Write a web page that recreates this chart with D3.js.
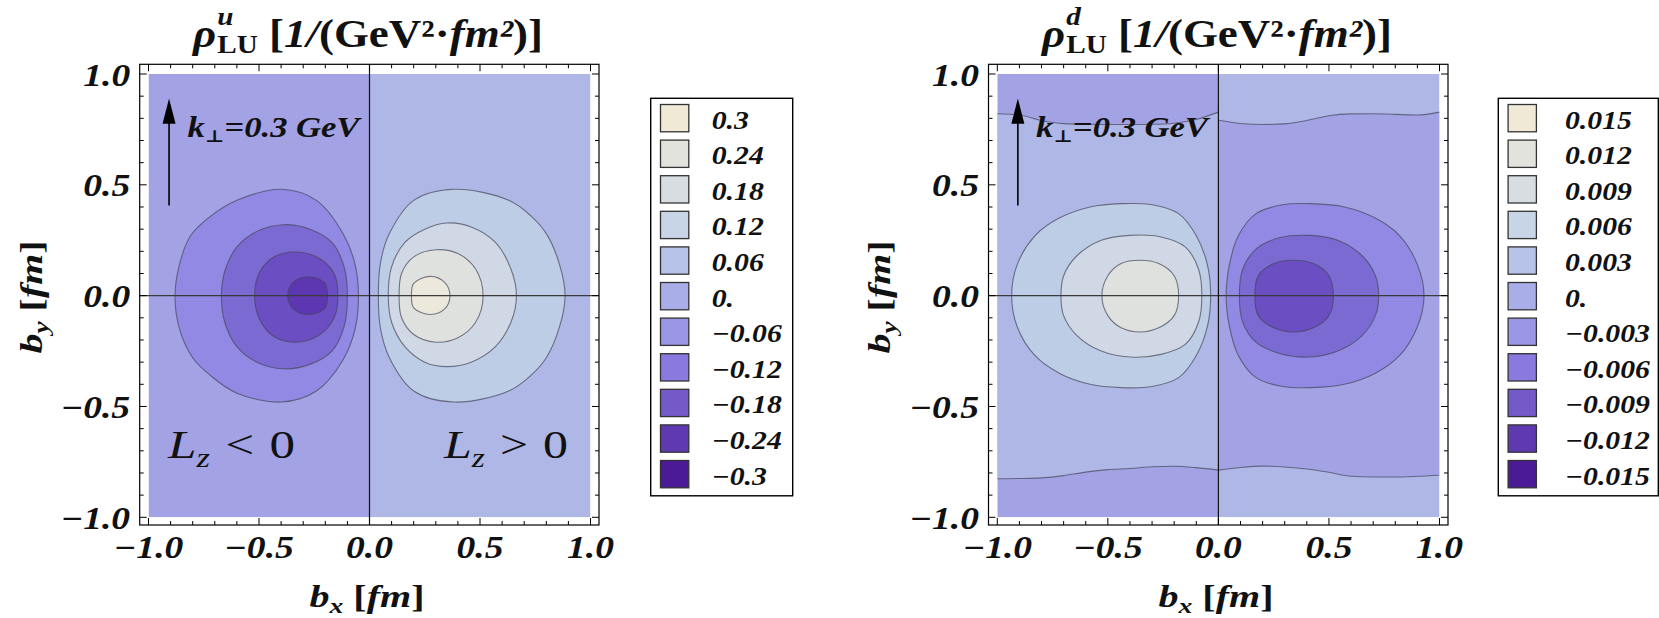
<!DOCTYPE html>
<html><head><meta charset="utf-8">
<script src="https://cdn.jsdelivr.net/npm/d3@7"></script>
<style>
body{margin:0;background:#fff}
svg{display:block}
text{font-family:"Liberation Serif","Times New Roman",serif;fill:#111}
</style></head>
<body><svg id="chart" width="1659" height="618"></svg>
<script>
// ================= DATA =================
const tickValues = [-1, -0.5, 0, 0.5, 1];
const tickLabels = ["−1.0", "−0.5", "0.0", "0.5", "1.0"];
const minorTickValues = [-0.9,-0.8,-0.7,-0.6,-0.4,-0.3,-0.2,-0.1,0.1,0.2,0.3,0.4,0.6,0.7,0.8,0.9];

const uLegendLabels = ["0.3","0.24","0.18","0.12","0.06","0.","−0.06","−0.12","−0.18","−0.24","−0.3"];
const dLegendLabels = ["0.015","0.012","0.009","0.006","0.003","0.","−0.003","−0.006","−0.009","−0.012","−0.015"];

// rho^u : negative lobe contours (levels -0.06, -0.12, -0.18, -0.24), [bx, by]
const uNeg006 = [[-0.05,0],[-0.065,0.14],[-0.12,0.28],[-0.24,0.43],[-0.40,0.48],[-0.60,0.43],[-0.73,0.35],[-0.81,0.27],[-0.86,0.14],[-0.88,0],[-0.86,-0.15],[-0.80,-0.28],[-0.72,-0.36],[-0.60,-0.44],[-0.40,-0.48],[-0.24,-0.43],[-0.12,-0.29],[-0.065,-0.15]];
const uNeg012 = [[-0.10,0],[-0.115,0.13],[-0.17,0.24],[-0.27,0.30],[-0.39,0.32],[-0.51,0.29],[-0.60,0.22],[-0.655,0.11],[-0.67,0],[-0.655,-0.12],[-0.60,-0.23],[-0.51,-0.30],[-0.39,-0.33],[-0.27,-0.31],[-0.17,-0.25],[-0.115,-0.14]];
const uNeg018 = [[-0.143,0],[-0.16,0.10],[-0.23,0.17],[-0.34,0.197],[-0.44,0.17],[-0.50,0.10],[-0.52,0],[-0.50,-0.10],[-0.44,-0.18],[-0.34,-0.21],[-0.23,-0.18],[-0.16,-0.10]];
const uNeg024 = [[-0.19,0],[-0.205,0.06],[-0.28,0.085],[-0.345,0.06],[-0.37,0],[-0.345,-0.06],[-0.28,-0.085],[-0.205,-0.06]];
// rho^u : positive lobe contours (levels 0.06, 0.12, 0.18, 0.24)
const uPos006 = [[0.04,0],[0.05,0.15],[0.09,0.28],[0.20,0.43],[0.385,0.48],[0.63,0.43],[0.73,0.36],[0.80,0.28],[0.86,0.14],[0.885,0],[0.86,-0.14],[0.80,-0.28],[0.73,-0.36],[0.63,-0.43],[0.385,-0.48],[0.20,-0.43],[0.09,-0.28],[0.05,-0.15]];
const uPos012 = [[0.085,0],[0.10,0.13],[0.16,0.24],[0.25,0.30],[0.35,0.328],[0.46,0.31],[0.57,0.24],[0.64,0.12],[0.665,0],[0.64,-0.12],[0.57,-0.23],[0.46,-0.30],[0.35,-0.32],[0.25,-0.30],[0.16,-0.23],[0.10,-0.12]];
const uPos018 = [[0.134,0],[0.145,0.10],[0.20,0.175],[0.30,0.207],[0.40,0.19],[0.48,0.12],[0.514,0],[0.48,-0.12],[0.40,-0.19],[0.30,-0.21],[0.20,-0.175],[0.145,-0.10]];
const uPos024 = [[0.19,0],[0.20,0.055],[0.275,0.087],[0.34,0.06],[0.364,0],[0.34,-0.06],[0.275,-0.085],[0.20,-0.055]];

// rho^d : positive lobe contours (levels 0.003, 0.006, 0.009)
const dPos003 = [[-0.035,0],[-0.05,0.14],[-0.10,0.27],[-0.18,0.37],[-0.30,0.41],[-0.44,0.415],[-0.58,0.40],[-0.72,0.35],[-0.83,0.27],[-0.91,0.14],[-0.935,0],[-0.91,-0.14],[-0.83,-0.27],[-0.72,-0.35],[-0.58,-0.40],[-0.44,-0.415],[-0.30,-0.41],[-0.18,-0.37],[-0.10,-0.27],[-0.05,-0.14]];
const dPos006 = [[-0.075,0],[-0.09,0.12],[-0.15,0.22],[-0.26,0.265],[-0.40,0.272],[-0.53,0.25],[-0.64,0.18],[-0.70,0.09],[-0.712,0],[-0.70,-0.09],[-0.64,-0.18],[-0.53,-0.25],[-0.40,-0.277],[-0.26,-0.265],[-0.15,-0.22],[-0.09,-0.12]];
const dPos009 = [[-0.18,0],[-0.20,0.09],[-0.27,0.145],[-0.355,0.16],[-0.44,0.145],[-0.50,0.09],[-0.527,0],[-0.50,-0.09],[-0.44,-0.145],[-0.355,-0.164],[-0.27,-0.145],[-0.20,-0.09]];
// rho^d : negative lobe contours (levels -0.003, -0.006, -0.009)
const dNeg003 = [[0.035,0],[0.05,0.14],[0.09,0.27],[0.17,0.37],[0.29,0.41],[0.42,0.415],[0.57,0.40],[0.71,0.35],[0.82,0.27],[0.90,0.14],[0.93,0],[0.90,-0.14],[0.82,-0.27],[0.71,-0.35],[0.57,-0.40],[0.42,-0.415],[0.29,-0.41],[0.17,-0.37],[0.09,-0.27],[0.05,-0.14]];
const dNeg006 = [[0.095,0],[0.11,0.12],[0.17,0.21],[0.28,0.262],[0.41,0.272],[0.54,0.25],[0.65,0.18],[0.71,0.09],[0.725,0],[0.71,-0.09],[0.65,-0.18],[0.54,-0.25],[0.41,-0.277],[0.28,-0.262],[0.17,-0.21],[0.11,-0.12]];
const dNeg009 = [[0.165,0],[0.18,0.09],[0.25,0.145],[0.34,0.16],[0.43,0.145],[0.50,0.09],[0.52,0],[0.50,-0.09],[0.43,-0.145],[0.34,-0.164],[0.25,-0.145],[0.18,-0.09]];
// rho^d : zero-level contours near |by| ~ 0.8
const dZeroXLeft   = [-1,-0.9,-0.8,-0.7,-0.6,-0.5,-0.4,-0.3,-0.2,-0.1,0];
const dZeroTopLeft = [0.821,0.815,0.79,0.776,0.773,0.772,0.772,0.773,0.778,0.795,0.828];
const dZeroBotLeft = [-0.826,-0.825,-0.822,-0.812,-0.796,-0.785,-0.78,-0.772,-0.77,-0.776,-0.787];
const dZeroXRight   = [0,0.1,0.2,0.3,0.4,0.5,0.6,0.7,0.8,0.9,1];
const dZeroTopRight = [0.791,0.777,0.772,0.775,0.79,0.812,0.82,0.821,0.818,0.815,0.828];
const dZeroBotRight = [-0.787,-0.775,-0.769,-0.773,-0.782,-0.797,-0.815,-0.818,-0.818,-0.815,-0.81];

// ================= STYLE =================
const legendColors = ["#efe9d6","#e3e3de","#d7dde1","#c8d5e6","#b7c3e9","#a9aee9","#9a98e6","#8a79de","#7459c9","#5f39b1","#4a1a97"];
const darkBg = "#a2a2e5", lightBg = "#afb7e6";
const negFills = ["#9189e3","#7c6ad3","#6a4ec2","#5d37b2"];
const posFills = ["#becde6","#cfd8e4","#dfe1df","#ece8dc"];
const contourStroke = "rgba(70,70,90,0.7)";

const svg = d3.select("#chart");
const Y_BOTTOM = 517.3, Y_TOP = 74;

const panels = [
  { x0:148.5, x1:590.5, neg:[uNeg006,uNeg012,uNeg018,uNeg024], pos:[uPos006,uPos012,uPos018,uPos024],
    sup:"u", legend:uLegendLabels, legX:650.7, legW:142, labX:711.7, zero:false,
    titleX:368, xTitleX:367, yTitleX:42, lz:true, arrowX:-0.907, kx:187.5 },
  { x0:997.3, x1:1439.5, neg:[dNeg003,dNeg006,dNeg009], pos:[dPos003,dPos006,dPos009],
    sup:"d", legend:dLegendLabels, legX:1498.3, legW:160, labX:1565, zero:true,
    titleX:1217, xTitleX:1216, yTitleX:890, lz:false, arrowX:-0.907, kx:1036 }
];

function rich(parent, parts){
  const g = parent.append("g");
  let x = 0, prevStart = 0, prevEnd = 0;
  parts.forEach(p => {
    const sx0 = p.stack ? prevStart : x + (p.dx || 0);
    const t = g.append("text").attr("x", sx0).attr("y", p.dy || 0)
      .style("font-size", p.fs + "px")
      .style("font-style", p.it ? "italic" : "normal")
      .style("font-weight", p.w || "bold")
      .text(p.t);
    if (p.family) t.style("font-family", p.family);
    const w = t.node().getComputedTextLength();
    const end = sx0 + w;
    if (p.stack) { x = Math.max(prevEnd, end); prevEnd = x; }
    else { prevStart = sx0; prevEnd = end; x = end; }
  });
  return { g, width: x };
}
function place(r, cx, by, o){
  o = o || {};
  const s = o.target ? o.target / r.width : (o.scale || 1);
  const anchor = o.anchor || "middle";
  const off = anchor === "middle" ? -r.width/2 : anchor === "end" ? -r.width : 0;
  r.g.attr("transform", `translate(${cx},${by}) rotate(${o.rotate||0}) scale(${s},1) translate(${off},0)`);
  return s;
}

// common scale factors for tick & legend labels
const TICK_FS = 31, LEG_FS = 25;
const probe = rich(svg, [{t:"0.0", fs:TICK_FS, it:true}]);
const tickScale = 47 / probe.width; probe.g.remove();
const probe2 = rich(svg, [{t:"−0.015", fs:LEG_FS, it:true}]);
const legScale = 85 / probe2.width; probe2.g.remove();

panels.forEach((P, pi) => {
  const x = d3.scaleLinear().domain([-1,1]).range([P.x0, P.x1]);
  const y = d3.scaleLinear().domain([-1,1]).range([Y_BOTTOM, Y_TOP]);
  const fL = P.x0 - 8.8, fR = P.x1 + 8.5, fT = Y_TOP - 9.7, fB = Y_BOTTOM + 7.7;
  const g = svg.append("g");
  const clipId = "clip" + pi;
  g.append("clipPath").attr("id", clipId).append("rect")
    .attr("x", P.x0).attr("y", Y_TOP).attr("width", P.x1 - P.x0).attr("height", Y_BOTTOM - Y_TOP);
  const plot = g.append("g").attr("clip-path", `url(#${clipId})`);

  // background halves
  plot.append("rect").attr("x", x(-1)).attr("y", y(1)).attr("width", x(0)-x(-1)).attr("height", y(-1)-y(1)).attr("fill", darkBg);
  plot.append("rect").attr("x", x(0)).attr("y", y(1)).attr("width", x(1)-x(0)).attr("height", y(-1)-y(1)).attr("fill", lightBg);

  if (P.zero) {
    const area = d3.area().x(d => x(d[0])).y0(d => y(d[2])).y1(d => y(d[1])).curve(d3.curveMonotoneX);
    const left = dZeroXLeft.map((v,i) => [v, dZeroTopLeft[i], dZeroBotLeft[i]]);
    const right = dZeroXRight.map((v,i) => [v, dZeroTopRight[i], dZeroBotRight[i]]);
    plot.append("path").attr("d", area(left)).attr("fill", lightBg);
    plot.append("path").attr("d", area(right)).attr("fill", darkBg);
    const ln = d3.line().x(d => x(d[0])).y(d => y(d[1])).curve(d3.curveMonotoneX);
    [left, right].forEach(arr => {
      plot.append("path").attr("d", ln(arr.map(d => [d[0], d[1]]))).attr("fill","none").attr("stroke", contourStroke).attr("stroke-width", 1.1);
      plot.append("path").attr("d", ln(arr.map(d => [d[0], d[2]]))).attr("fill","none").attr("stroke", contourStroke).attr("stroke-width", 1.1);
    });
  }

  const closed = d3.line().x(d => x(d[0])).y(d => y(d[1])).curve(d3.curveCatmullRomClosed.alpha(0.5));
  P.neg.forEach((c, i) => plot.append("path").attr("d", closed(c)).attr("fill", negFills[i]).attr("stroke", contourStroke).attr("stroke-width", 1.1));
  P.pos.forEach((c, i) => plot.append("path").attr("d", closed(c)).attr("fill", posFills[i]).attr("stroke", contourStroke).attr("stroke-width", 1.1));

  // axis lines through origin
  g.append("line").attr("x1", fL).attr("x2", fR).attr("y1", y(0)).attr("y2", y(0)).attr("stroke", "#3a3a3a").attr("stroke-width", 1.4);
  g.append("line").attr("x1", x(0)).attr("x2", x(0)).attr("y1", fT).attr("y2", fB).attr("stroke", "#111").attr("stroke-width", 1.2);

  // frame
  g.append("rect").attr("x", fL).attr("y", fT).attr("width", fR-fL).attr("height", fB-fT)
    .attr("fill","none").attr("stroke","#000").attr("stroke-width",1.2);
  const tk = (v, len) => {
    g.append("line").attr("x1", x(v)).attr("x2", x(v)).attr("y1", fB).attr("y2", fB-len).attr("stroke","#000").attr("stroke-width",1);
    g.append("line").attr("x1", x(v)).attr("x2", x(v)).attr("y1", fT).attr("y2", fT+len).attr("stroke","#000").attr("stroke-width",1);
    g.append("line").attr("y1", y(v)).attr("y2", y(v)).attr("x1", fL).attr("x2", fL+len).attr("stroke","#000").attr("stroke-width",1);
    g.append("line").attr("y1", y(v)).attr("y2", y(v)).attr("x1", fR).attr("x2", fR-len).attr("stroke","#000").attr("stroke-width",1);
  };
  tickValues.forEach(v => tk(v, 7));
  minorTickValues.forEach(v => tk(v, 4));

  tickValues.forEach((v, i) => {
    place(rich(g, [{t:tickLabels[i], fs:TICK_FS, it:true}]), x(v), 558, {scale:tickScale});
    place(rich(g, [{t:tickLabels[i], fs:TICK_FS, it:true}]), fL - 9.5, y(v) + 11.5, {scale:tickScale, anchor:"end"});
  });

  // title
  place(rich(g, [
    {t:"ρ", fs:40, it:true},
    {t:P.sup, fs:26, it:true, dy:-22, dx:1},
    {t:"LU", fs:26, dy:6, stack:true},
    {t:"[", fs:40, dx:10},
    {t:"1/", fs:40, it:true},
    {t:"(GeV²·", fs:40},
    {t:"fm²", fs:40, it:true},
    {t:")]", fs:40}
  ]), P.titleX, 47, {target:350});

  // axis titles
  place(rich(g, [{t:"b", fs:32, it:true},{t:"x", fs:22, it:true, dy:6},{t:"[", fs:32, dx:8},{t:"fm", fs:32, it:true},{t:"]", fs:32}]),
        P.xTitleX, 607, {target:115});
  place(rich(g, [{t:"b", fs:32, it:true},{t:"y", fs:22, it:true, dy:6},{t:"[", fs:32, dx:8},{t:"fm", fs:32, it:true},{t:"]", fs:32}]),
        P.yTitleX, 297, {target:113, rotate:-90});

  // arrow + k label
  const ax = x(P.arrowX);
  g.append("line").attr("x1", ax).attr("x2", ax).attr("y1", y(0.407)).attr("y2", y(0.80)).attr("stroke","#000").attr("stroke-width",1.6);
  g.append("path").attr("d", `M${ax},${y(0.89)} L${ax-6.5},${y(0.775)} L${ax+6.5},${y(0.775)} Z`).attr("fill","#000");
  place(rich(g, [{t:"k", fs:29, it:true},{t:"⊥", fs:17, dy:5, family:"DejaVu Serif"},{t:"=0.3", fs:29, it:true, dy:0},{t:"GeV", fs:29, it:true, dx:7}]),
        P.kx, 137, {target:172, anchor:"start"});

  if (P.lz) {
    place(rich(g, [{t:"L", fs:40, it:true, w:"normal"},{t:"z", fs:27, it:true, w:"normal", dy:9},{t:"<", fs:40, w:"normal", dx:12},{t:"0", fs:40, w:"normal", dx:12}]),
          168, 458, {target:127, anchor:"start"});
    place(rich(g, [{t:"L", fs:40, it:true, w:"normal"},{t:"z", fs:27, it:true, w:"normal", dy:9},{t:">", fs:40, w:"normal", dx:12},{t:"0", fs:40, w:"normal", dx:12}]),
          444, 458, {target:124, anchor:"start"});
  }

  // legend
  const lg = svg.append("g");
  lg.append("rect").attr("x", P.legX).attr("y", 98.3).attr("width", P.legW).attr("height", 397.5)
    .attr("fill","#fff").attr("stroke","#000").attr("stroke-width",1.4);
  P.legend.forEach((lab, i) => {
    const sy = 104.5 + i * 35.6;
    lg.append("rect").attr("x", P.legX + 9.8).attr("y", sy).attr("width", 28.3).attr("height", 27.3)
      .attr("fill", legendColors[i]).attr("stroke", "#333").attr("stroke-width", 1.3);
    place(rich(lg, [{t:lab, fs:LEG_FS, it:true}]), P.labX, sy + 24, {scale:legScale, anchor:"start"});
  });
});
</script>
</body></html>
